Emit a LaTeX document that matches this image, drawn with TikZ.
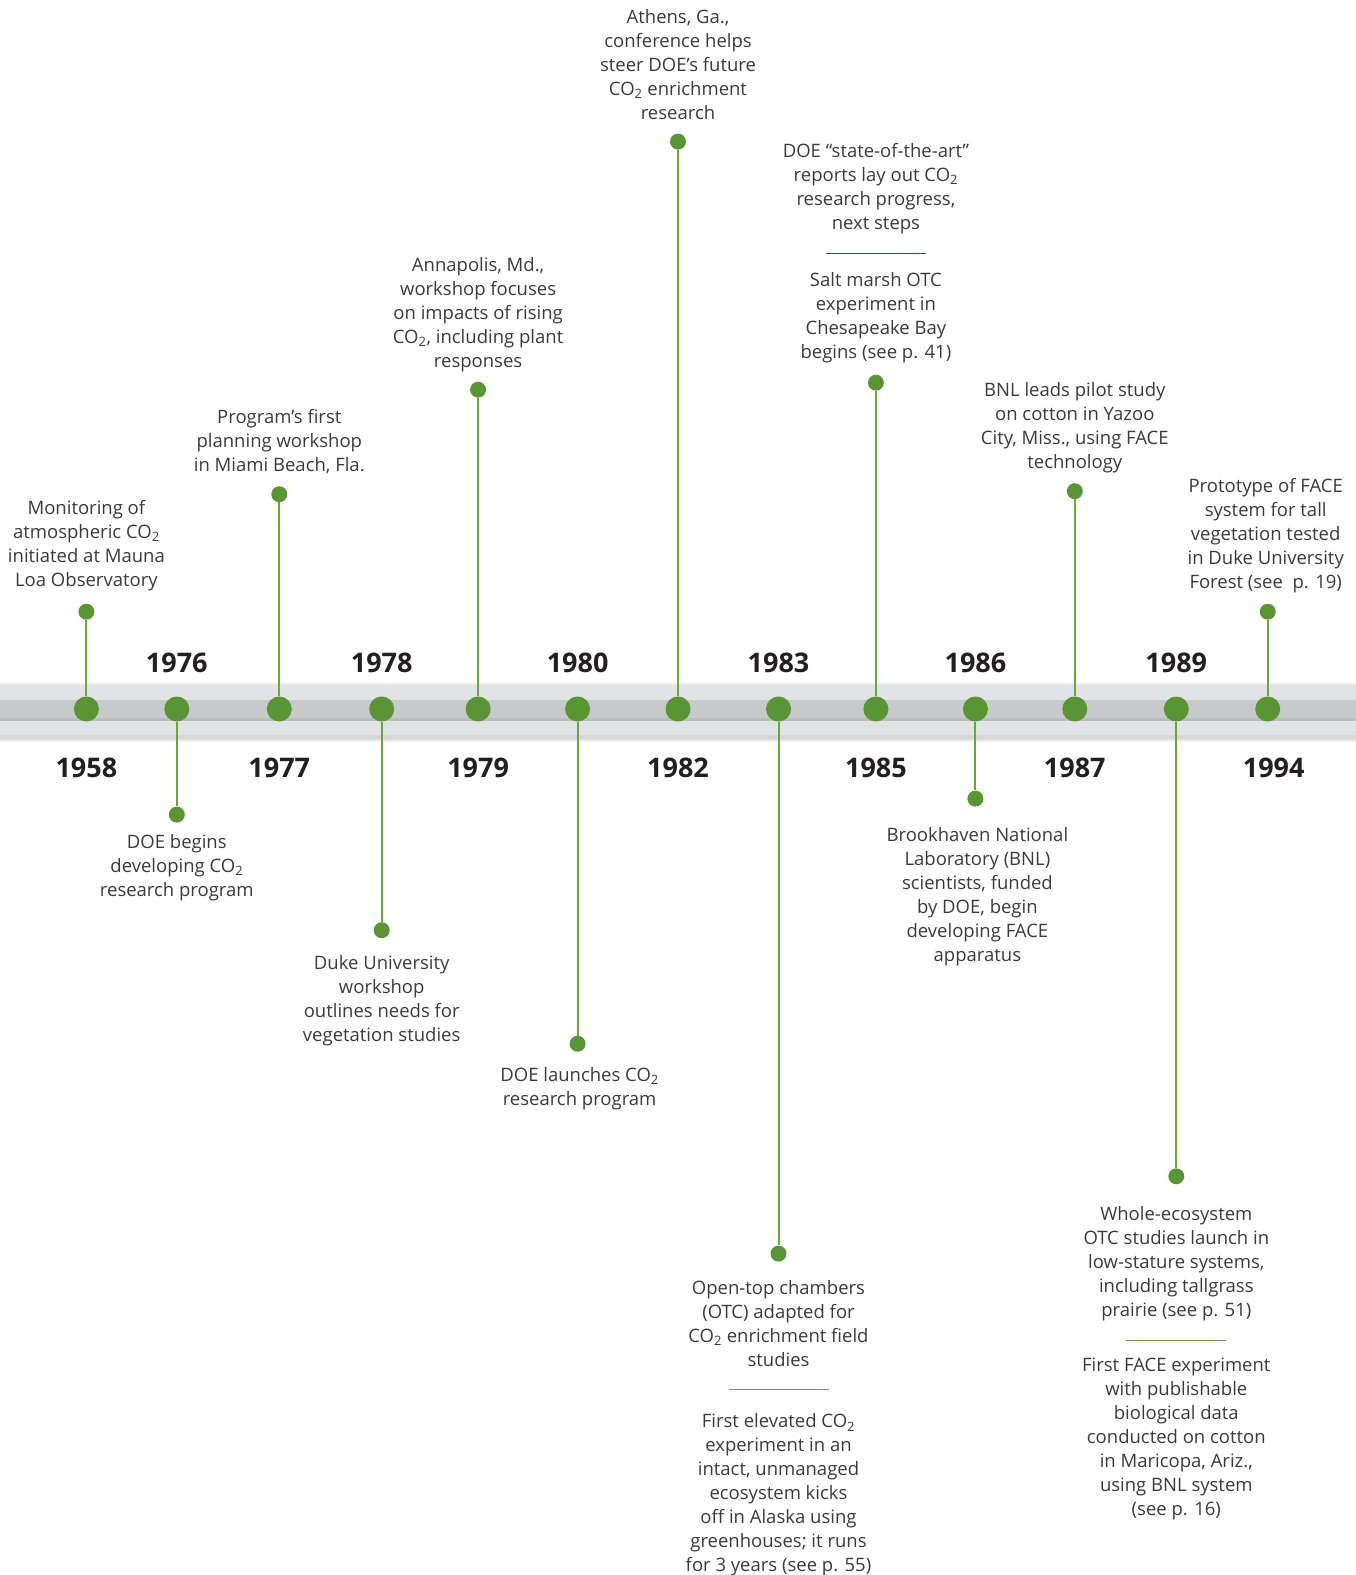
\documentclass[tikz,border=0pt]{standalone}
\usepackage{fontspec}
\setmainfont{Open Sans}
\usetikzlibrary{positioning}
\definecolor{dotgreen}{HTML}{5A9533}
\definecolor{stemgreen}{HTML}{6AA63F}
\definecolor{darkrule}{HTML}{2F5F36}
\definecolor{barlight}{HTML}{E2E3E5}
\definecolor{bardark}{HTML}{C8C9CB}
\definecolor{barshade}{HTML}{BBBCBE}
\definecolor{baredge}{HTML}{D6D7D9}
\definecolor{textgray}{HTML}{3A3A3A}
\definecolor{yeargray}{HTML}{231F20}
\newcommand{\cotwo}{CO\textsubscript{2}}
\tikzstyle{bigdot} = [circle, fill=dotgreen, minimum size=25pt, inner sep=0pt]
\tikzstyle{enddot} = [circle, fill=dotgreen, minimum size=16pt, inner sep=0pt]
\tikzstyle{stem} = [draw, line width=2pt, color=stemgreen]
\tikzstyle{note} = [align=center, inner sep=0pt, text=textgray,
  font=\fontsize{18.5}{24}\selectfont, execute at begin node=\strut, execute at end node=\strut]
\tikzstyle{yearlabel} = [inner sep=0pt, text=yeargray, font=\fontsize{27}{30}\selectfont\bfseries]
\tikzstyle{sepbar} = [rectangle, fill=stemgreen, minimum width=100pt, minimum height=1.2pt, inner sep=0pt]

\begin{document}
\begin{tikzpicture}[x=1pt, y=-1pt]
  \useasboundingbox (0,0) rectangle (1356,1575);
  % the bar
  \shade[top color=white, bottom color=barlight] (0,681) rectangle (1356,685);
  \fill[barlight] (0,685) rectangle (1356,738);
  \fill[bardark] (0,700) rectangle (1356,718);
  \fill[barshade] (0,718) rectangle (1356,721);
  \fill[baredge] (0,735) rectangle (1356,738);
  \shade[top color=baredge, bottom color=white] (0,738) rectangle (1356,742);

  \node [bigdot] (b1958) at (86.4,709) {};
  \node [bigdot] (b1976) at (176.8,709) {};
  \node [bigdot] (b1977) at (279.3,709) {};
  \node [bigdot] (b1978) at (381.7,709) {};
  \node [bigdot] (b1979) at (478.1,709) {};
  \node [bigdot] (b1980) at (577.6,709) {};
  \node [bigdot] (b1982) at (678,709) {};
  \node [bigdot] (b1983) at (778.5,709) {};
  \node [bigdot] (b1985) at (875.9,709) {};
  \node [bigdot] (b1986) at (975.4,709) {};
  \node [bigdot] (b1987) at (1074.8,709) {};
  \node [bigdot] (b1989) at (1176.3,709) {};
  \node [bigdot] (b1994) at (1267.7,709) {};

  \node [enddot] (d1958) at (86.4,611.7) {};
  \node [enddot] (d1977) at (279.3,494.2) {};
  \node [enddot] (d1979) at (478.1,389.7) {};
  \node [enddot] (d1982) at (678,141.6) {};
  \node [enddot] (d1985) at (875.9,382.7) {};
  \node [enddot] (d1987) at (1074.8,491.2) {};
  \node [enddot] (d1994) at (1267.7,611.7) {};
  \node [enddot] (d1976) at (176.8,814.6) {};
  \node [enddot] (d1978) at (381.7,930.2) {};
  \node [enddot] (d1980) at (577.6,1043.7) {};
  \node [enddot] (d1983) at (778.5,1253.6) {};
  \node [enddot] (d1986) at (975.4,798.6) {};
  \node [enddot] (d1989) at (1176.3,1176.3) {};

  \node [yearlabel, below=36pt of b1958] (y1958) {1958};
  \node [yearlabel, above=23.5pt of b1976] (y1976) {1976};
  \node [yearlabel, below=36pt of b1977] (y1977) {1977};
  \node [yearlabel, above=23.5pt of b1978] (y1978) {1978};
  \node [yearlabel, below=36pt of b1979] (y1979) {1979};
  \node [yearlabel, above=23.5pt of b1980] (y1980) {1980};
  \node [yearlabel, below=36pt of b1982] (y1982) {1982};
  \node [yearlabel, above=23.5pt of b1983] (y1983) {1983};
  \node [yearlabel, below=36pt of b1985] (y1985) {1985};
  \node [yearlabel, above=23.5pt of b1986] (y1986) {1986};
  \node [yearlabel, below=36pt of b1987] (y1987) {1987};
  \node [yearlabel, above=23.5pt of b1989] (y1989) {1989};
  \node [yearlabel, below=36pt of b1994, xshift=6pt] (y1994) {1994};

  \node [note, above=9.9pt of d1958] (t1958) {Monitoring of\\atmospheric \cotwo\\initiated at Mauna\\Loa Observatory};
  \node [note, above=6.9pt of d1977] (t1977) {Program’s first\\planning workshop\\in Miami Beach, Fla.};
  \node [note, above=6.9pt of d1979] (t1979) {Annapolis, Md.,\\workshop focuses\\on impacts of rising\\\cotwo, including plant\\responses};
  \node [note, above=6.9pt of d1982] (t1982) {Athens, Ga.,\\conference helps\\steer DOE’s future\\\cotwo{} enrichment\\research};
  \node [note, above=8.9pt of d1985] (t1985b) {Salt marsh OTC\\experiment in\\Chesapeake Bay\\begins (see p. 41)};
  \node [sepbar, fill=darkrule, above=17.4pt of t1985b] (s1985) {};
  \node [note, above=16pt of s1985] (t1985a) {DOE “state-of-the-art”\\reports lay out \cotwo\\research progress,\\next steps};
  \node [note, above=6.9pt of d1987] (t1987) {BNL leads pilot study\\on cotton in Yazoo\\City, Miss., using FACE\\technology};
  \node [note, above=7.9pt of d1994, xshift=-2pt] (t1994) {Prototype of FACE\\system for tall\\vegetation tested\\in Duke University\\Forest (see\ \ p. 19)};

  \node [note, below=11.4pt of d1976] (t1976) {DOE begins\\developing \cotwo\\research program};
  \node [note, below=17pt of d1978] (t1978) {Duke University\\workshop\\outlines needs for\\vegetation studies};
  \node [note, below=15.3pt of d1980, xshift=2pt] (t1980) {DOE launches \cotwo\\research program};
  \node [note, below=18.4pt of d1983] (t1983a) {Open-top chambers\\(OTC) adapted for\\\cotwo{} enrichment field\\studies};
  \node [sepbar, below=14.8pt of t1983a] (s1983) {};
  \node [note, below=23.3pt of s1983] (t1983b) {First elevated \cotwo\\experiment in an\\intact, unmanaged\\ecosystem kicks\\off in Alaska using\\greenhouses; it runs\\for 3 years (see p. 55)};
  \node [note, below=20.3pt of d1986, xshift=2pt] (t1986) {Brookhaven National\\Laboratory (BNL)\\scientists, funded\\by DOE, begin\\developing FACE\\apparatus};
  \node [note, below=21.3pt of d1989] (t1989a) {Whole-ecosystem\\OTC studies launch in\\low-stature systems,\\including tallgrass\\prairie (see p. 51)};
  \node [sepbar, below=16.2pt of t1989a] (s1989) {};
  \node [note, below=16.3pt of s1989] (t1989b) {First FACE experiment\\with publishable\\biological data\\conducted on cotton\\in Maricopa, Ariz.,\\using BNL system\\(see p. 16)};

  \path [stem] (b1958) -- (d1958);
  \path [stem] (b1976) -- (d1976);
  \path [stem] (b1977) -- (d1977);
  \path [stem] (b1978) -- (d1978);
  \path [stem] (b1979) -- (d1979);
  \path [stem] (b1980) -- (d1980);
  \path [stem] (b1982) -- (d1982);
  \path [stem] (b1983) -- (d1983);
  \path [stem] (b1985) -- (d1985);
  \path [stem] (b1986) -- (d1986);
  \path [stem] (b1987) -- (d1987);
  \path [stem] (b1989) -- (d1989);
  \path [stem] (b1994) -- (d1994);

\end{tikzpicture}
\end{document}
